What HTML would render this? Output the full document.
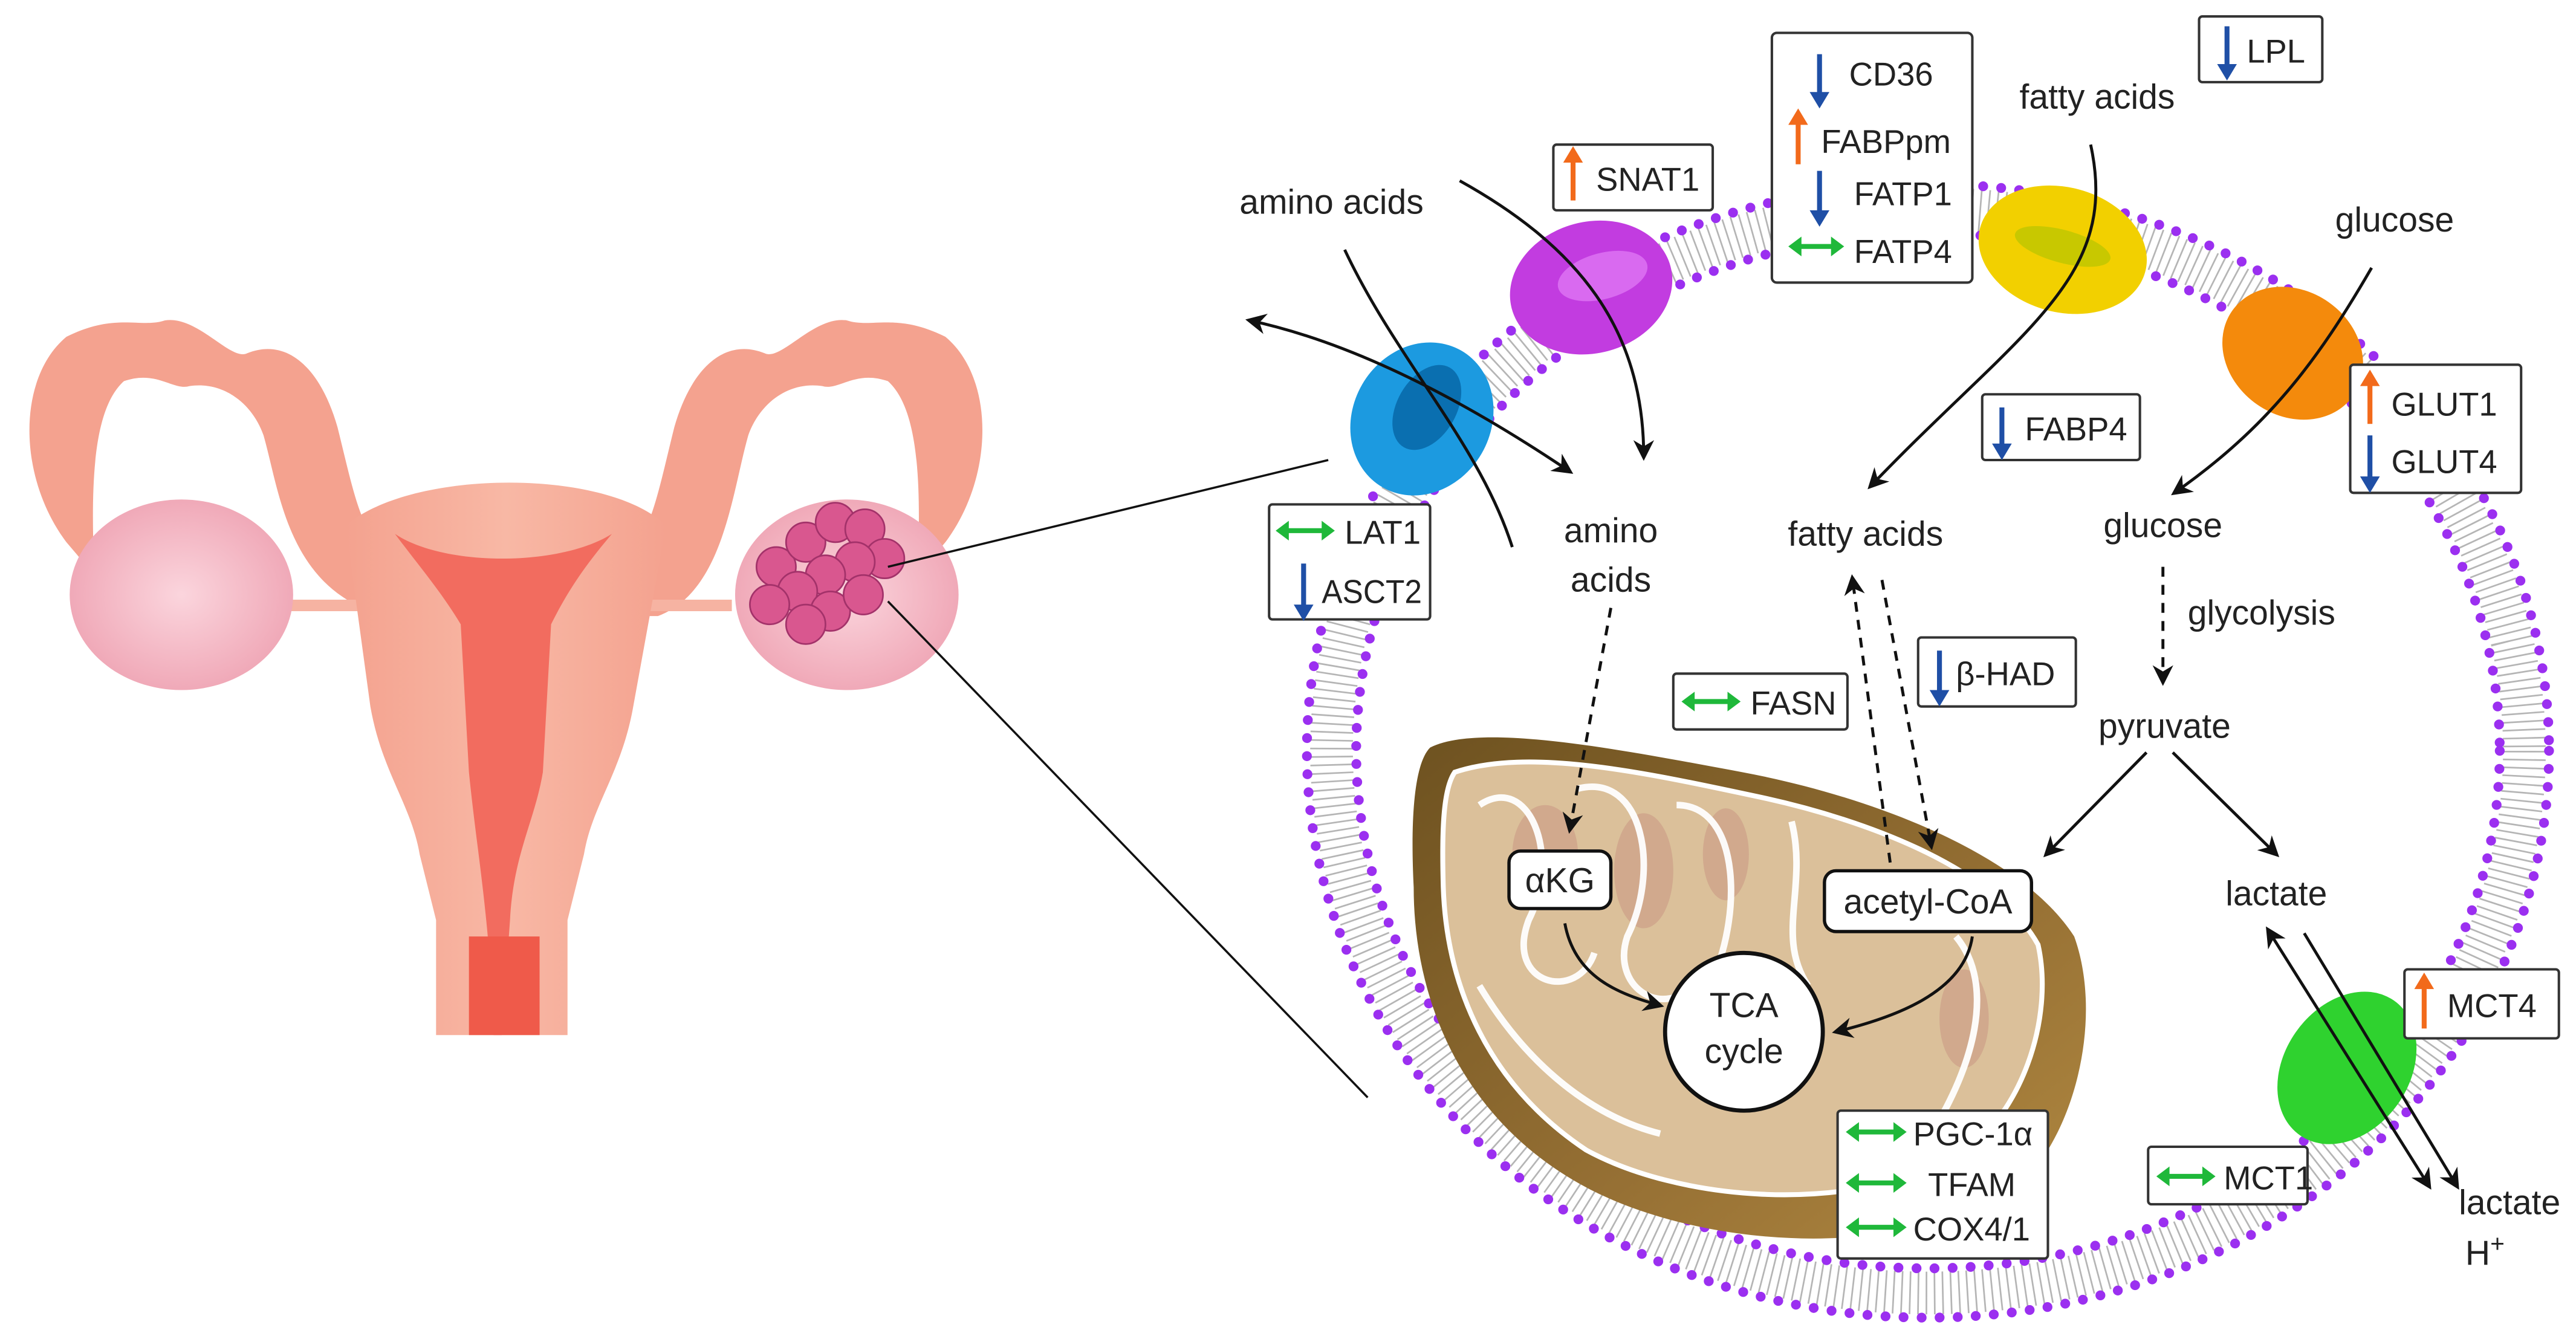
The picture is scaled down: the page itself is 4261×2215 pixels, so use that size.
<!DOCTYPE html>
<html><head><meta charset="utf-8">
<style>html,body{margin:0;padding:0;background:#fff}svg{display:block}
text{font-family:"Liberation Sans",sans-serif;fill:#222}</style></head>
<body>
<svg width="4261" height="2215" viewBox="0 0 1567 815" xmlns="http://www.w3.org/2000/svg">
<defs>
<marker id="ah" viewBox="0 0 10 10" refX="8" refY="5" markerWidth="7" markerHeight="7" orient="auto-start-reverse"><path d="M0,0 L10,5 L0,10 L3,5z" fill="#111"/></marker>
<radialGradient id="ov" cx="50%" cy="50%" r="50%"><stop offset="0" stop-color="#fbd5dd"/><stop offset="1" stop-color="#f0a9b8"/></radialGradient>
<linearGradient id="ut" x1="0" x2="1"><stop offset="0" stop-color="#f4a28f"/><stop offset=".5" stop-color="#f8b8a5"/><stop offset="1" stop-color="#f4a28f"/></linearGradient>
<linearGradient id="mito" x1="0" y1="0" x2="1" y2="1"><stop offset="0" stop-color="#6e5220"/><stop offset=".6" stop-color="#967034"/><stop offset="1" stop-color="#b08840"/></linearGradient>
</defs>

<!-- uterus -->
<g>
<path d="M40,330 C10,290 10,230 40,205 C70,190 85,200 100,195 C120,192 140,220 150,215 C175,205 195,225 205,260 C215,300 220,330 238,335 L380,335 C395,330 400,300 410,260 C420,225 440,205 465,215 C475,220 495,192 515,195 C530,200 545,190 575,205 C605,230 605,290 575,330 L558,350 C560,300 560,250 540,232 C520,225 510,238 500,235 C480,232 462,245 455,265 C445,300 440,360 400,375 L235,375 C175,360 170,300 160,265 C153,245 135,232 115,235 C105,238 95,225 75,232 C55,250 55,300 57,350 Z" fill="#f4a28f"/>
<rect x="170" y="365" width="110" height="7" fill="#f6b3a2"/>
<rect x="335" y="365" width="110" height="7" fill="#f6b3a2"/>
<path d="M210,320 C250,285 370,285 405,320 L385,430 C378,470 360,490 355,520 L345,560 L345,630 L265,630 L265,560 L255,520 C250,490 232,470 225,430 Z" fill="url(#ut)"/>
<path d="M240,325 C270,345 340,345 372,325 C355,345 345,360 335,380 L330,470 C325,500 312,520 310,560 L305,630 L300,630 C298,560 290,520 285,470 L280,380 C268,360 255,345 240,325 Z" fill="#f26c5f"/>
<path d="M285,570 L328,570 L328,630 L285,630 Z" fill="#ef5a4a"/>
<ellipse cx="110" cy="362" rx="68" ry="58" fill="url(#ov)"/>
<ellipse cx="515" cy="362" rx="68" ry="58" fill="url(#ov)"/>
<g fill="#d9578f" stroke="#a3326a" stroke-width="1">
<circle cx="472" cy="345" r="12"/><circle cx="490" cy="330" r="12"/><circle cx="508" cy="318" r="12"/><circle cx="526" cy="322" r="12"/>
<circle cx="538" cy="340" r="12"/><circle cx="520" cy="342" r="12"/><circle cx="502" cy="350" r="12"/><circle cx="485" cy="360" r="12"/>
<circle cx="468" cy="368" r="12"/><circle cx="505" cy="372" r="12"/><circle cx="525" cy="362" r="12"/><circle cx="490" cy="380" r="12"/>
</g>
</g>
<line x1="540" y1="345" x2="808" y2="280" stroke="#111" stroke-width="1.3"/>
<line x1="540" y1="366" x2="832" y2="668" stroke="#111" stroke-width="1.3"/>

<!-- membrane -->
<ellipse cx="1173" cy="457" rx="363" ry="330" fill="none" stroke="#b5b5b5" stroke-width="26" stroke-dasharray="1 4"/>
<ellipse cx="1173" cy="457" rx="378" ry="345" fill="none" stroke="#9b2ff0" stroke-width="6" stroke-dasharray="0 11" stroke-linecap="round"/>
<ellipse cx="1173" cy="457" rx="348" ry="315" fill="none" stroke="#9b2ff0" stroke-width="6" stroke-dasharray="0 11" stroke-linecap="round"/>

<!-- transporters -->
<g>
<ellipse cx="865" cy="255" rx="42" ry="48" transform="rotate(30 865 255)" fill="#1c9ae0"/>
<ellipse cx="868" cy="248" rx="18" ry="28" transform="rotate(30 868 248)" fill="#0a6fb0"/>
<ellipse cx="968" cy="175" rx="50" ry="40" transform="rotate(-15 968 175)" fill="#c23ce0"/>
<ellipse cx="975" cy="168" rx="28" ry="14" transform="rotate(-15 975 168)" fill="#d96af0"/>
<ellipse cx="1255" cy="152" rx="52" ry="38" transform="rotate(15 1255 152)" fill="#f2d000"/>
<ellipse cx="1255" cy="150" rx="30" ry="10" transform="rotate(15 1255 150)" fill="#c8c800"/>
<ellipse cx="1395" cy="215" rx="45" ry="38" transform="rotate(35 1395 215)" fill="#f48a0c"/>
<ellipse cx="1428" cy="650" rx="38" ry="50" transform="rotate(35 1428 650)" fill="#2fd22f"/>
</g>

<!-- mitochondrion -->
<path d="M870,455 C900,440 980,455 1060,470 C1140,485 1230,520 1262,570 C1280,620 1262,690 1230,720 C1160,770 1030,760 960,720 C890,680 860,610 860,540 C858,500 860,465 870,455 Z" fill="url(#mito)"/>
<path d="M885,470 C930,455 1000,470 1070,485 C1140,500 1215,530 1240,575 C1250,620 1230,680 1190,705 C1120,740 1020,730 965,700 C905,660 880,600 878,540 C877,505 878,480 885,470 Z" fill="#dbc09a" stroke="#fff" stroke-width="3"/>
<g fill="#c99a86" opacity=".6">
<ellipse cx="940" cy="520" rx="20" ry="30"/><ellipse cx="1000" cy="530" rx="18" ry="35"/><ellipse cx="1195" cy="620" rx="15" ry="30"/><ellipse cx="1050" cy="520" rx="14" ry="28"/>
</g>
<g fill="none" stroke="#fff" stroke-width="4" opacity=".95">
<path d="M900,490 C930,470 950,520 930,560 C915,600 960,610 970,580"/>
<path d="M960,480 C1000,470 1010,530 990,570 C980,600 1010,620 1030,600"/>
<path d="M1020,490 C1060,490 1060,560 1040,600"/>
<path d="M1090,500 C1100,540 1080,570 1100,600"/>
<path d="M1190,570 C1215,600 1200,650 1175,690"/>
<path d="M900,600 C930,650 970,680 1010,690"/>
</g>

<!-- arrows -->
<g fill="none" stroke="#111" stroke-width="1.8">
<path d="M818,152 C850,220 900,270 920,333"/>
<path d="M888,110 C960,150 1000,200 1000,278" marker-end="url(#ah)"/>
<path d="M760,195 C830,210 900,250 955,287" marker-start="url(#ah)" marker-end="url(#ah)"/>
<path d="M980,370 L955,505" stroke-dasharray="6 5" marker-end="url(#ah)"/>
<path d="M1272,88 C1290,170 1230,200 1138,296" marker-end="url(#ah)"/>
<path d="M1443,163 C1410,220 1380,260 1323,300" marker-end="url(#ah)"/>
<path d="M1150,525 L1127,352" stroke-dasharray="6 5" marker-end="url(#ah)"/>
<path d="M1145,353 L1175,515" stroke-dasharray="6 5" marker-end="url(#ah)"/>
<path d="M1316,345 L1316,415" stroke-dasharray="6 5" marker-end="url(#ah)"/>
<path d="M1306,458 L1245,520" marker-end="url(#ah)"/>
<path d="M1322,458 L1385,520" marker-end="url(#ah)"/>
<path d="M1380,566 L1478,722" marker-start="url(#ah)" marker-end="url(#ah)"/>
<path d="M1402,568 L1495,722" marker-end="url(#ah)"/>
<path d="M952,562 C958,595 985,605 1010,612" marker-end="url(#ah)"/>
<path d="M1200,570 C1195,605 1150,620 1117,628" marker-end="url(#ah)"/>
</g>

<!-- TCA -->
<circle cx="1061" cy="628" r="48" fill="#fff" stroke="#111" stroke-width="2.5"/>
<text x="1061" y="619" font-size="21" text-anchor="middle">TCA</text>
<text x="1061" y="647" font-size="21" text-anchor="middle">cycle</text>

<!-- boxes -->
<g fill="#fff" stroke="#333" stroke-width="1.5">
<rect x="945" y="88" width="97" height="40" rx="2"/>
<rect x="1078" y="20" width="122" height="152" rx="3"/>
<rect x="1338" y="10" width="75" height="40" rx="2"/>
<rect x="1430" y="222" width="104" height="78" rx="2"/>
<rect x="1206" y="240" width="96" height="40" rx="2"/>
<rect x="772" y="307" width="98" height="70" rx="2"/>
<rect x="1018" y="410" width="106" height="34" rx="2"/>
<rect x="1167" y="388" width="96" height="42" rx="2"/>
<rect x="918" y="518" width="62" height="35" rx="7" stroke="#111" stroke-width="2"/>
<rect x="1110" y="530" width="126" height="37" rx="7" stroke="#111" stroke-width="2"/>
<rect x="1463" y="590" width="94" height="42" rx="2"/>
<rect x="1118" y="676" width="128" height="90" rx="2"/>
<rect x="1307" y="698" width="97" height="35" rx="2"/>
</g>

<!-- indicator arrows -->
<g stroke-width="3" fill="none">
<g stroke="#f26a1b"><path d="M957,122 L957,97"/><path d="M1094,100 L1094,74"/><path d="M1442,258 L1442,233"/><path d="M1475,626 L1475,600"/></g>
<g stroke="#1f4fa6"><path d="M1107,33 L1107,58"/><path d="M1107,104 L1107,130"/><path d="M1355,16 L1355,41"/><path d="M1442,265 L1442,292"/><path d="M1218,248 L1218,272"/><path d="M793,343 L793,370"/><path d="M1180,396 L1180,422"/></g>
<g stroke="#1fb83a"><path d="M1090,150 L1120,150"/><path d="M778,323 L810,323"/><path d="M1025,427 L1057,427"/><path d="M1125,689 L1158,689"/><path d="M1125,720 L1158,720"/><path d="M1125,747 L1158,747"/><path d="M1314,716 L1346,716"/></g>
</g>
<g>
<g fill="#f26a1b"><path d="M951,99 L957,89 L963,99z"/><path d="M1088,76 L1094,66 L1100,76z"/><path d="M1436,235 L1442,225 L1448,235z"/><path d="M1469,602 L1475,592 L1481,602z"/></g>
<g fill="#1f4fa6"><path d="M1101,56 L1107,66 L1113,56z"/><path d="M1101,128 L1107,138 L1113,128z"/><path d="M1349,39 L1355,49 L1361,39z"/><path d="M1436,290 L1442,300 L1448,290z"/><path d="M1212,270 L1218,280 L1224,270z"/><path d="M787,368 L793,378 L799,368z"/><path d="M1174,420 L1180,430 L1186,420z"/></g>
<g fill="#1fb83a">
<path d="M1088,150 l8,-6 v12z M1122,150 l-8,-6 v12z"/>
<path d="M776,323 l8,-6 v12z M812,323 l-8,-6 v12z"/>
<path d="M1023,427 l8,-6 v12z M1059,427 l-8,-6 v12z"/>
<path d="M1123,689 l8,-6 v12z M1160,689 l-8,-6 v12z"/>
<path d="M1123,720 l8,-6 v12z M1160,720 l-8,-6 v12z"/>
<path d="M1123,747 l8,-6 v12z M1160,747 l-8,-6 v12z"/>
<path d="M1312,716 l8,-6 v12z M1348,716 l-8,-6 v12z"/>
</g>
</g>

<!-- text -->
<g font-size="21">
<text x="810" y="130" text-anchor="middle">amino acids</text>
<text x="1276" y="66" text-anchor="middle">fatty acids</text>
<text x="1457" y="141" text-anchor="middle">glucose</text>
<text x="980" y="330" text-anchor="middle">amino</text>
<text x="980" y="360" text-anchor="middle">acids</text>
<text x="1135" y="332" text-anchor="middle">fatty acids</text>
<text x="1316" y="327" text-anchor="middle">glucose</text>
<text x="1376" y="380" text-anchor="middle">glycolysis</text>
<text x="1317" y="449" text-anchor="middle">pyruvate</text>
<text x="949" y="543" text-anchor="middle">αKG</text>
<text x="1173" y="556" text-anchor="middle">acetyl-CoA</text>
<text x="1385" y="551" text-anchor="middle">lactate</text>
<text x="1527" y="739" text-anchor="middle">lactate</text>
<text x="1512" y="770" text-anchor="middle">H<tspan font-size="15" dy="-8">+</tspan></text>
</g>
<g font-size="20">
<text x="971" y="116">SNAT1</text>
<text x="1125" y="52">CD36</text>
<text x="1108" y="93">FABPpm</text>
<text x="1128" y="125">FATP1</text>
<text x="1128" y="160">FATP4</text>
<text x="1367" y="38">LPL</text>
<text x="1455" y="253">GLUT1</text>
<text x="1455" y="288">GLUT4</text>
<text x="1232" y="268">FABP4</text>
<text x="818" y="331">LAT1</text>
<text x="804" y="367" textLength="61" lengthAdjust="spacingAndGlyphs">ASCT2</text>
<text x="1065" y="435">FASN</text>
<text x="1190" y="417">β-HAD</text>
<text x="1489" y="619">MCT4</text>
<text x="1164" y="697">PGC-1α</text>
<text x="1173" y="728">TFAM</text>
<text x="1164" y="755">COX4/1</text>
<text x="1353" y="724">MCT1</text>
</g>
</svg>
</body></html>
